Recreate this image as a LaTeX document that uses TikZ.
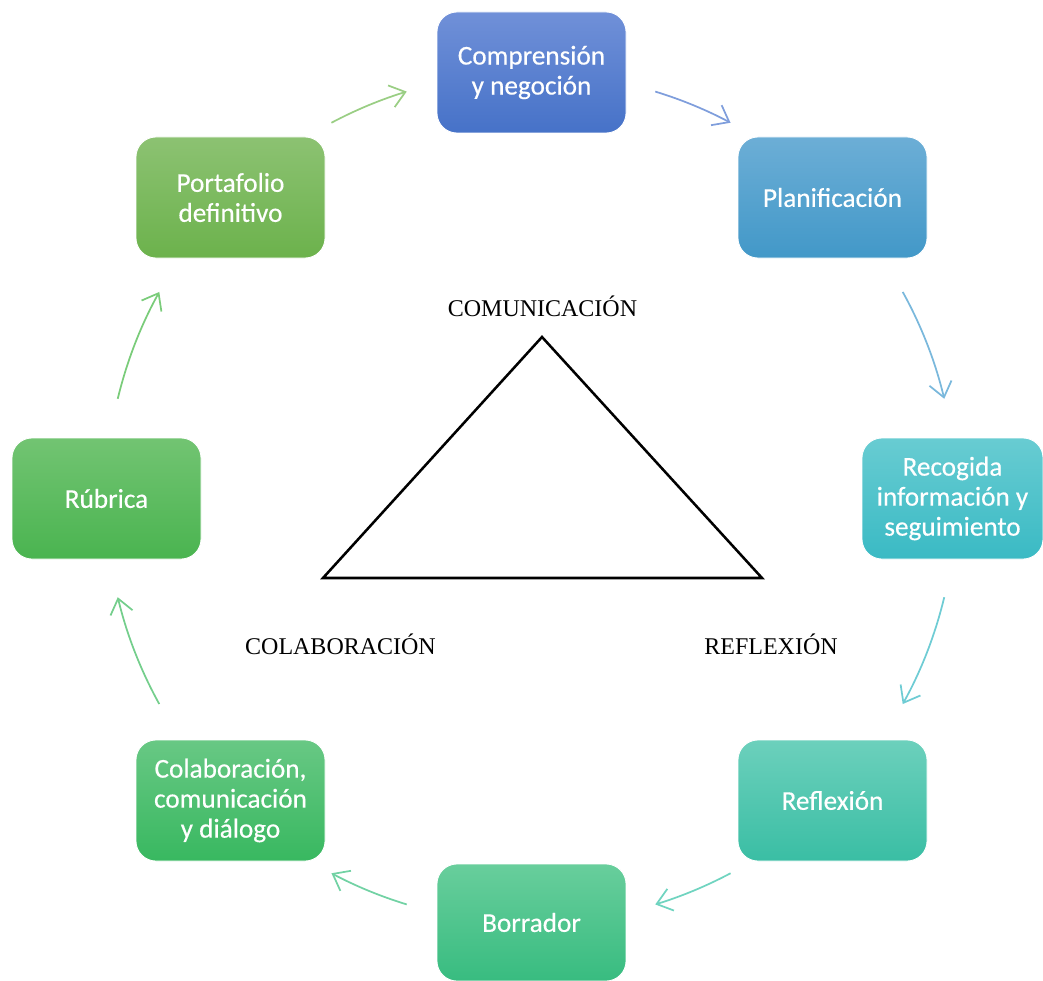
\documentclass[tikz,border=0pt]{standalone}
\usepackage{fontspec}
\setmainfont{Liberation Serif}
\newfontfamily\boxfont[FakeBold=0.4]{Carlito}
\usetikzlibrary{arrows.meta,calc}
\definecolor{cAt}{HTML}{7090D8}\definecolor{cAb}{HTML}{4672C8}
\definecolor{cBt}{HTML}{6CAED6}\definecolor{cBb}{HTML}{4298C8}
\definecolor{cCt}{HTML}{68CCD2}\definecolor{cCb}{HTML}{3ABAC4}
\definecolor{cDt}{HTML}{6CD0BC}\definecolor{cDb}{HTML}{3ABEA4}
\definecolor{cEt}{HTML}{68CE9C}\definecolor{cEb}{HTML}{38BC80}
\definecolor{cFt}{HTML}{68C884}\definecolor{cFb}{HTML}{38B860}
\definecolor{cGt}{HTML}{72C472}\definecolor{cGb}{HTML}{4AB450}
\definecolor{cHt}{HTML}{8CC272}\definecolor{cHb}{HTML}{6CB24C}
\definecolor{aA}{HTML}{7F9EDC}\definecolor{aB}{HTML}{7AB8DC}
\definecolor{aC}{HTML}{6FCCD4}\definecolor{aD}{HTML}{70D4C0}
\definecolor{aE}{HTML}{72D2A4}\definecolor{aF}{HTML}{74CE8C}
\definecolor{aG}{HTML}{7ACC7A}\definecolor{aH}{HTML}{9ACE84}
\begin{document}
\begin{tikzpicture}[x=0.75pt,y=0.75pt,
  stepbox/.style={rounded corners=15pt, minimum width=141.75pt, minimum height=90.75pt,
    inner sep=0pt, align=center, text=white, draw=white, line width=0.6pt,
    font=\boxfont\fontsize{20.4}{22.5}\selectfont},
  cyc/.style={line width=1.3pt, -{Straight Barb[length=11pt,width=17pt,line width=1.3pt]}},
  lbl/.style={font=\fontsize{18}{20}\selectfont, text=black, anchor=base, inner sep=0pt},
  tri/.style={draw=black, line width=1.9pt, line join=miter}
]
\useasboundingbox (0,0) rectangle (1043,-981);
\coordinate (C) at (531,-498);

% boxes
\node[stepbox, top color=cAt, bottom color=cAb] (n1) at (531.5,-72.5) {Comprensión\\y negoción};
\node[stepbox, top color=cBt, bottom color=cBb] (n2) at (832.5,-197.5) {Planificación};
\node[stepbox, top color=cCt, bottom color=cCb, minimum width=135.75pt] (n3) at (952.5,-498.5) {Recogida\\información y\\seguimiento};
\node[stepbox, top color=cDt, bottom color=cDb] (n4) at (832.5,-800.5) {Reflexión};
\node[stepbox, top color=cEt, bottom color=cEb, minimum height=87.75pt] (n5) at (531.5,-922.5) {Borrador};
\node[stepbox, top color=cFt, bottom color=cFb] (n6) at (230.5,-800.5) {Colaboración,\\comunicación\\y diálogo};
\node[stepbox, top color=cGt, bottom color=cGb] (n7) at (106.5,-498.5) {Rúbrica};
\node[stepbox, top color=cHt, bottom color=cHb] (n8) at (230.5,-197.5) {Portafolio\\definitivo};

% arrow start points on the cycle circle
\coordinate (s1) at ($(C)+(73:425)$);
\coordinate (s2) at ($(C)+(29:425)$);
\coordinate (s3) at ($(C)+(-13.5:425)$);
\coordinate (s4) at ($(C)+(-62:425)$);
\coordinate (s5) at ($(C)+(-107:425)$);
\coordinate (s6) at ($(C)+(-151:425)$);
\coordinate (s7) at ($(C)+(166.5:425)$);
\coordinate (s8) at ($(C)+(118:425)$);

\draw[cyc, aA] (s1) arc[start angle=73, end angle=62, radius=425];
\draw[cyc, aB] (s2) arc[start angle=29, end angle=13.5, radius=425];
\draw[cyc, aC] (s3) arc[start angle=-13.5, end angle=-29, radius=425];
\draw[cyc, aD] (s4) arc[start angle=-62, end angle=-73, radius=425];
\draw[cyc, aE] (s5) arc[start angle=-107, end angle=-118, radius=425];
\draw[cyc, aF] (s6) arc[start angle=-151, end angle=-166.5, radius=425];
\draw[cyc, aG] (s7) arc[start angle=166.5, end angle=151, radius=425];
\draw[cyc, aH] (s8) arc[start angle=118, end angle=107, radius=425];

% triangle
\coordinate (tA) at (542,-337);
\coordinate (tB) at (323,-578);
\coordinate (tC) at (762,-578);
\draw[tri] (tA) -- (tB) -- (tC) -- cycle;

% labels
\node[lbl] (l1) at (542.5,-316) {COMUNICACIÓN};
\node[lbl] (l2) at (340.5,-654) {COLABORACIÓN};
\node[lbl] (l3) at (771,-654) {REFLEXIÓN};
\end{tikzpicture}
\end{document}
